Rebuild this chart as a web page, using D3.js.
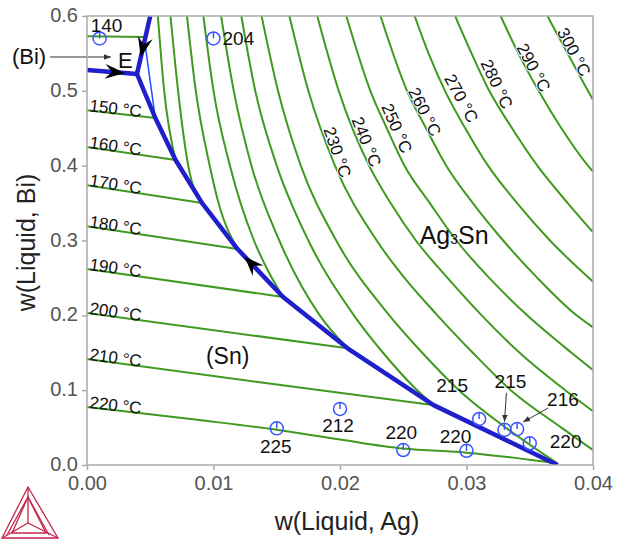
<!DOCTYPE html>
<html>
<head>
<meta charset="utf-8">
<script src="https://cdn.jsdelivr.net/npm/d3@7/dist/d3.min.js"></script>
<style>
body { margin: 0; background: #fff; }
text { font-family: "Liberation Sans", Arial, sans-serif; }
</style>
</head>
<body>
<script>
// axis ticks
var xTicks = [0, 0.01, 0.02, 0.03, 0.04];
var yTicks = [0, 0.1, 0.2, 0.3, 0.4, 0.5, 0.6];

// isotherms in the (Sn) / (Bi) fields, [w(Ag), w(Bi)]
var sn140 = [[0, 0.573], [0.0046, 0.572]];
var sn150 = [[0, 0.474], [0.0054, 0.4637]];
var sn160 = [[0, 0.425], [0.0070, 0.4076]];
var sn170 = [[0, 0.374], [0.0091, 0.350]];
var sn180 = [[0, 0.319], [0.0119, 0.2886]];
var sn190 = [[0, 0.262], [0.0155, 0.2245]];
var sn200 = [[0, 0.203], [0.0206, 0.156]];
var sn210 = [[0, 0.1416], [0.0135, 0.111], [0.0274, 0.080]];
var sn220 = [[0, 0.0775], [0.0089, 0.060], [0.015, 0.047], [0.02, 0.034], [0.025, 0.022], [0.03, 0.0165], [0.0372, 0.002]];
var snTemps = [140, 150, 160, 170, 180, 190, 200, 210, 220];
var snLines = [sn140, sn150, sn160, sn170, sn180, sn190, sn200, sn210, sn220];

// isotherms in the Ag3Sn field
var ag160 = [[0.0056, 0.6], [0.0061, 0.5], [0.0070, 0.4076]];
var ag170 = [[0.0066, 0.6], [0.0072, 0.5], [0.0080, 0.4], [0.0091, 0.350]];
var ag180 = [[0.0079, 0.6], [0.0086, 0.5], [0.0097, 0.4], [0.0104, 0.35], [0.0119, 0.2886]];
var ag190 = [[0.0092, 0.6], [0.0100, 0.5], [0.0113, 0.4], [0.0132, 0.3], [0.0143, 0.26], [0.0155, 0.2245]];
var ag200 = [[0.0106, 0.6], [0.0116, 0.5], [0.0130, 0.4], [0.0152, 0.3], [0.0184, 0.2], [0.0206, 0.156]];
var ag210 = [[0.0122, 0.6], [0.0133, 0.5], [0.0150, 0.4], [0.0175, 0.3], [0.0211, 0.2], [0.0234, 0.15], [0.0258, 0.105], [0.0274, 0.080]];
var ag220 = [[0.0138, 0.6], [0.0151, 0.5], [0.0169, 0.4], [0.0197, 0.3], [0.0239, 0.2], [0.0265, 0.15], [0.0294, 0.1], [0.0331, 0.05], [0.0372, 0.002]];
var ag230 = [[0.0160, 0.6], [0.0175, 0.5], [0.0196, 0.4], [0.0229, 0.3], [0.0251, 0.25], [0.0277, 0.2], [0.0305, 0.15], [0.0335, 0.1], [0.0375, 0.05], [0.04, 0.02]];
var ag240 = [[0.0182, 0.6], [0.0199, 0.5], [0.0223, 0.4], [0.0240, 0.35], [0.0260, 0.3], [0.0285, 0.25], [0.0312, 0.2], [0.0342, 0.15], [0.0378, 0.1], [0.04, 0.072]];
var ag250 = [[0.0205, 0.6], [0.0224, 0.5], [0.0237, 0.45], [0.0251, 0.4], [0.0271, 0.35], [0.0292, 0.3], [0.0318, 0.25], [0.0348, 0.2], [0.0383, 0.15], [0.04, 0.127]];
var ag260 = [[0.0232, 0.6], [0.0253, 0.5], [0.0268, 0.45], [0.0284, 0.4], [0.0305, 0.35], [0.0329, 0.3], [0.0356, 0.25], [0.0387, 0.2], [0.04, 0.184]];
var ag270 = [[0.0259, 0.6], [0.0270, 0.55], [0.0283, 0.5], [0.0299, 0.45], [0.0317, 0.4], [0.0340, 0.35], [0.0366, 0.3], [0.04, 0.245]];
var ag280 = [[0.0291, 0.6], [0.0304, 0.55], [0.0318, 0.5], [0.0336, 0.45], [0.0356, 0.4], [0.0380, 0.35], [0.04, 0.311]];
var ag290 = [[0.0327, 0.6], [0.0341, 0.55], [0.0357, 0.5], [0.0375, 0.45], [0.0396, 0.4], [0.04, 0.392]];
var ag300 = [[0.0364, 0.6], [0.0380, 0.55], [0.0396, 0.5], [0.04, 0.488]];
var agTemps = [160, 170, 180, 190, 200, 210, 220, 230, 240, 250, 260, 270, 280, 290, 300];
var agLines = [ag160, ag170, ag180, ag190, ag200, ag210, ag220, ag230, ag240, ag250, ag260, ag270, ag280, ag290, ag300];

// where the Ag3Sn isotherm labels sit
var agLabelTemps = [230, 240, 250, 260, 270, 280, 290, 300];
var agLabelX = [0.0198, 0.0221, 0.0245, 0.0267, 0.0296, 0.0324, 0.0353, 0.0385];
var agLabelY = [0.418, 0.432, 0.450, 0.472, 0.490, 0.509, 0.531, 0.552];

// liquidus valleys
var eutecticE = [0.00395, 0.5225];
var valleyBiSn = [[0, 0.528], eutecticE];
var valleyBiAg = [[0.005, 0.6], eutecticE];
var valleySnAg = [eutecticE, [0.0054, 0.4637], [0.0070, 0.4076], [0.0091, 0.350], [0.0119, 0.2886],
                  [0.0155, 0.2245], [0.0206, 0.156], [0.0274, 0.080], [0.0372, 0.0]];
var thin150 = [[0.0054, 0.4637], [0.0046, 0.561]];

// experimental points
var expX = [0.001, 0.010, 0.015, 0.020, 0.025, 0.030, 0.031, 0.033, 0.034, 0.035];
var expY = [0.570, 0.570, 0.049, 0.075, 0.020, 0.019, 0.0615, 0.047, 0.048, 0.029];
var expT = ["140", "204", "225", "212", "220", "220", "215", "215", "216", "220"];
var expDx = [-9, 9, -1, -2, -2, -11, -27, 6, 30, 20];
var expDy = [-6, 7, 25, 23, -11, -8, -27, -42, -23, 5];
var expAnchor = ["start", "start", "middle", "middle", "middle", "middle", "middle", "middle", "start", "start"];

// set up variables
var margin = {top: 16, right: 26, bottom: 76, left: 87},
    canvasWidth = 619,
    canvasHeight = 541,
    plotWidth = canvasWidth - margin.left - margin.right,
    plotHeight = canvasHeight - margin.top - margin.bottom;

var green = "#3f9a1f",
    blue = "#1f1fcc",
    markBlue = "#3a56ff";

var figure = d3.select("body")
    .append("svg")
        .attr("width", canvasWidth)
        .attr("height", canvasHeight);

var x = d3.scaleLinear()
        .range([margin.left, margin.left + plotWidth])
        .domain([0, 0.04]);
var y = d3.scaleLinear()
        .range([margin.top + plotHeight, margin.top])
        .domain([0, 0.6]);

figure.append("clipPath")
    .attr("id", "plotClip")
    .append("rect")
        .attr("x", margin.left).attr("y", margin.top)
        .attr("width", plotWidth).attr("height", plotHeight);

var plot = figure.append("g").attr("clip-path", "url(#plotClip)");

var smooth = d3.line()
    .x(function(d) { return x(d[0]); })
    .y(function(d) { return y(d[1]); })
    .curve(d3.curveMonotoneX);
var straight = d3.line()
    .x(function(d) { return x(d[0]); })
    .y(function(d) { return y(d[1]); });

// green isotherms
plot.append("g").selectAll("path")
    .data(snLines.concat(agLines))
    .enter().append("path")
        .attr("d", smooth)
        .attr("fill", "none")
        .attr("stroke", green)
        .attr("stroke-width", 2);

// thin valley piece at 150
plot.append("path")
    .attr("d", straight(thin150))
    .attr("fill", "none").attr("stroke", "#1a50ff").attr("stroke-width", 1.5);

// thick liquidus valleys
plot.append("g").selectAll("path")
    .data([valleyBiSn, valleyBiAg, valleySnAg])
    .enter().append("path")
        .attr("d", straight)
        .attr("fill", "none")
        .attr("stroke", blue)
        .attr("stroke-width", 4.5)
        .attr("stroke-linejoin", "round");

// direction arrows on the valleys
function valleyArrow(a, b, t) {
    var ax = x(a[0]), ay = y(a[1]), bx = x(b[0]), by = y(b[1]);
    var tx = ax + t * (bx - ax), ty = ay + t * (by - ay);
    var ang = Math.atan2(by - ay, bx - ax) * 180 / Math.PI;
    figure.append("path")
        .attr("d", "M0,0 L-20,-7.5 L-13,0 L-20,7.5 Z")
        .attr("fill", "#000")
        .attr("transform", "translate(" + tx + "," + ty + ") rotate(" + ang + ")");
}
valleyArrow(valleyBiSn[0], eutecticE, 0.76);
valleyArrow(valleyBiAg[0], eutecticE, 0.71);
valleyArrow(valleySnAg[5], valleySnAg[4], 0.85);

// labels on the (Sn) side isotherms
snLines.forEach(function(line, i) {
    if (snTemps[i] == 140) return;
    var a = line[0], b = line[1];
    var ang = Math.atan2(y(b[1]) - y(a[1]), x(b[0]) - x(a[0])) * 180 / Math.PI;
    figure.append("text")
        .attr("transform", "translate(" + (x(a[0]) + 2) + "," + (y(a[1]) + 1) + ") rotate(" + ang + ")")
        .attr("font-size", 17)
        .attr("fill", "#111")
        .text(snTemps[i] + " \u00b0C");
});

// labels on the Ag3Sn side isotherms
function angleAt(pts, yv) {
    for (var i = 0; i < pts.length - 1; i++) {
        var a = pts[i], b = pts[i + 1];
        if ((a[1] - yv) * (b[1] - yv) <= 0)
            return Math.atan2(y(b[1]) - y(a[1]), x(b[0]) - x(a[0])) * 180 / Math.PI;
    }
    return 60;
}
agLabelTemps.forEach(function(T, i) {
    var line = agLines[agTemps.indexOf(T)];
    var ang = angleAt(line, agLabelY[i]);
    figure.append("text")
        .attr("transform", "translate(" + x(agLabelX[i]) + "," + y(agLabelY[i]) + ") rotate(" + ang + ")")
        .attr("text-anchor", "middle")
        .attr("dy", "0.35em")
        .attr("font-size", 17)
        .attr("fill", "#111")
        .attr("stroke", "#fff").attr("stroke-width", 2).attr("paint-order", "stroke")
        .text(T + " \u00b0C");
});

// experimental points
var pts = figure.append("g");
expX.forEach(function(v, i) {
    var cx = x(v), cy = y(expY[i]);
    pts.append("circle")
        .attr("cx", cx).attr("cy", cy).attr("r", 6.5)
        .attr("fill", "none").attr("stroke", markBlue).attr("stroke-width", 1.5);
    pts.append("line")
        .attr("x1", cx).attr("y1", cy).attr("x2", cx).attr("y2", cy - 6.5)
        .attr("stroke", markBlue).attr("stroke-width", 1.5);
    pts.append("text")
        .attr("x", cx + expDx[i]).attr("y", cy + expDy[i])
        .attr("text-anchor", expAnchor[i])
        .attr("font-size", 19)
        .attr("fill", "#111")
        .text(expT[i]);
});

// leader arrows
figure.append("defs").append("marker")
    .attr("id", "head").attr("viewBox", "0 0 10 10")
    .attr("refX", 10).attr("refY", 5)
    .attr("markerWidth", 7).attr("markerHeight", 7)
    .attr("orient", "auto")
    .append("path").attr("d", "M0,1 L10,5 L0,9 Z").attr("fill", "#333");

function leader(x1, y1, x2, y2) {
    figure.append("line")
        .attr("x1", x1).attr("y1", y1).attr("x2", x2).attr("y2", y2)
        .attr("stroke", "#333").attr("stroke-width", 1)
        .attr("marker-end", "url(#head)");
}
leader(x(expX[7]) + 2, y(expY[7]) - 37, x(expX[7]), y(expY[7]) - 8);
leader(x(expX[8]) + 31, y(expY[8]) - 21, x(expX[8]) + 6, y(expY[8]) - 7);
leader(x(eutecticE[0]) - 87, y(eutecticE[1]) - 17, x(eutecticE[0]) - 26, y(eutecticE[1]) - 17);

// phase labels
figure.append("text")
    .attr("x", x(eutecticE[0]) - 125).attr("y", y(eutecticE[1]) - 10)
    .attr("font-size", 22).attr("fill", "#111").text("(Bi)");
figure.append("text")
    .attr("x", x(eutecticE[0]) - 19).attr("y", y(eutecticE[1]) - 6)
    .attr("font-size", 22).attr("fill", "#111").text("E");
figure.append("text")
    .attr("x", x(0.0094)).attr("y", y(0.135))
    .attr("font-size", 23).attr("fill", "#111").text("(Sn)");
var ag3 = figure.append("text")
    .attr("x", x(0.0263)).attr("y", y(0.295))
    .attr("font-size", 25).attr("fill", "#111");
ag3.append("tspan").text("Ag");
ag3.append("tspan").attr("font-size", 14).text("3");
ag3.append("tspan").text("Sn");

// frame
figure.append("rect")
    .attr("x", margin.left).attr("y", margin.top)
    .attr("width", plotWidth).attr("height", plotHeight)
    .attr("fill", "none").attr("stroke", "#aaa").attr("stroke-width", 1.5);

// add the axes
var xAxis = figure.append("g")
    .attr("transform", "translate(0," + (margin.top + plotHeight) + ")")
    .call(d3.axisBottom(x).tickValues(xTicks).tickFormat(d3.format(".2f"))
        .tickSize(5).tickSizeOuter(0).tickPadding(6));
var yAxis = figure.append("g")
    .attr("transform", "translate(" + margin.left + ",0)")
    .call(d3.axisLeft(y).tickValues(yTicks).tickFormat(d3.format(".1f"))
        .tickSize(5).tickSizeOuter(0).tickPadding(4));
[xAxis, yAxis].forEach(function(ax) {
    ax.select(".domain").remove();
    ax.selectAll(".tick line").attr("stroke", "#aaa").attr("stroke-width", 1.5);
    ax.selectAll(".tick text")
        .attr("font-family", "Liberation Sans, Arial, sans-serif")
        .attr("font-size", 20).attr("fill", "#555");
});
yAxis.selectAll(".tick text").attr("dy", "0.28em");

// add axis labels
figure.append("text")
    .attr("text-anchor", "middle")
    .attr("x", 347).attr("y", 530)
    .attr("font-size", 25).attr("fill", "#222")
    .text("w(Liquid, Ag)");
figure.append("text")
    .attr("text-anchor", "middle")
    .attr("transform", "translate(35," + (margin.top + plotHeight / 2 + 2) + ") rotate(-90)")
    .attr("font-size", 25).attr("fill", "#222")
    .text("w(Liquid, Bi)");

// logo in the corner
var logo = figure.append("g")
    .attr("fill", "none").attr("stroke", "#c2264d").attr("stroke-width", 1.3);
logo.append("path").attr("d", "M2,538 L58,538 L28,487 Z");
logo.append("path").attr("d", "M28,497 L12,533 L46,533 Z");
logo.append("path").attr("d", "M28,487 L28,523 M2,538 L28,523 M58,538 L28,523");
logo.append("path").attr("d", "M7,535 L28,497 L49,535");
</script>
</body>
</html>
